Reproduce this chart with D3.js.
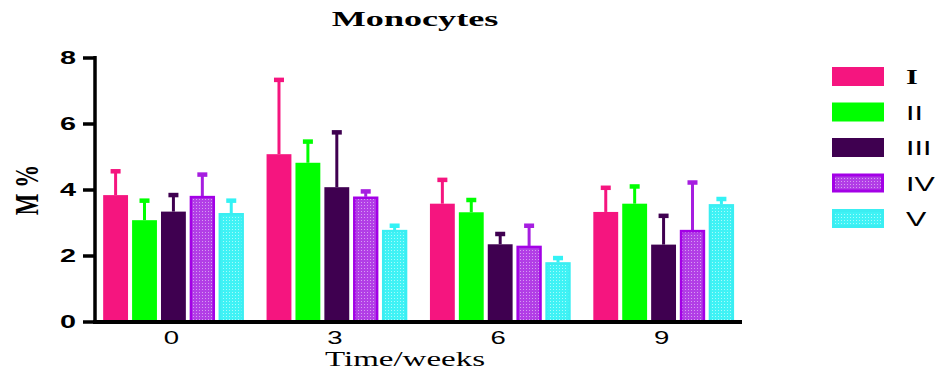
<!DOCTYPE html>
<html>
<head>
<meta charset="utf-8">
<script src="https://cdn.jsdelivr.net/npm/d3@7"></script>
<style>
  html, body { margin: 0; padding: 0; background: #fff; }
  svg { display: block; }
</style>
</head>
<body>
<svg id="chart" width="942" height="381"></svg>
<script>
// Monocyte percentage per group over time (mean with upper SD bar)
const weeks = ["0", "3", "6", "9"];
const groups = ["I", "II", "III", "IV", "V"];
const meanI   = [3.83, 5.07, 3.57, 3.32];
const meanII  = [3.07, 4.81, 3.31, 3.57];
const meanIII = [3.33, 4.07, 2.34, 2.33];
const meanIV  = [3.80, 3.78, 2.29, 2.77];
const meanV   = [3.28, 2.77, 1.79, 3.55];
const sdI   = [0.79, 2.32, 0.79, 0.80];
const sdII  = [0.66, 0.71, 0.44, 0.59];
const sdIII = [0.57, 1.73, 0.38, 0.94];
const sdIV  = [0.72, 0.23, 0.68, 1.51];
const sdV   = [0.45, 0.20, 0.20, 0.23];
const yTicks = [0, 2, 4, 6, 8];

const means = [meanI, meanII, meanIII, meanIV, meanV];
const sds = [sdI, sdII, sdIII, sdIV, sdV];

const colors = ["#f5157f", "#00ff00", "#3f0050", "#a61ee0", "#33f2f5"];
const fills = ["#f5157f", "#00ff00", "#3f0050", "url(#dotsIV)", "url(#dotsV)"];
const borders = [null, null, null, "#a300e6", "#3aeef2"];

const svg = d3.select("#chart");

// dotted fills for groups IV and V
const defs = svg.append("defs");
function dots(id, base, dot) {
  const p = defs.append("pattern").attr("id", id)
    .attr("patternUnits", "userSpaceOnUse").attr("width", 3).attr("height", 3);
  p.append("rect").attr("width", 3).attr("height", 3).attr("fill", base);
  p.append("rect").attr("x", 1).attr("y", 1).attr("width", 1).attr("height", 1).attr("fill", dot);
}
dots("dotsIV", "#b23ee6", "#d69cf2");
dots("dotsV", "#3ff2f5", "#a6fbfb");

const x0 = d3.scaleBand().domain(weeks).range([95, 742]).paddingInner(0.14).paddingOuter(0.05);
const x1 = d3.scaleBand().domain(groups).range([0, x0.bandwidth()]).paddingInner(0.14).paddingOuter(0);
const y = d3.scaleLinear().domain([0, 8]).range([321.5, 57.5]);

// horizontally widened text
function wideText(parent, x, yy, txt, opts) {
  const g = parent.append("g").attr("transform", `translate(${x},${yy}) scale(${opts.sx || 1.5},1)`);
  return g.append("text")
    .attr("text-anchor", opts.anchor || "middle")
    .attr("font-family", opts.family || "Liberation Sans, Arial, sans-serif")
    .attr("font-weight", opts.weight || "normal")
    .attr("font-size", opts.size)
    .attr("fill", "#000")
    .text(txt);
}

// bars
const barsG = svg.append("g");
weeks.forEach((w, wi) => {
  groups.forEach((g, gi) => {
    const bx = x0(w) + x1(g);
    const bw = x1.bandwidth();
    const v = means[gi][wi];
    const top = y(v + sds[gi][wi]);
    const cx = bx + bw / 2;
    // error whisker and cap
    barsG.append("line")
      .attr("x1", cx).attr("x2", cx).attr("y1", y(v)).attr("y2", top + 2)
      .attr("stroke", colors[gi]).attr("stroke-width", 3);
    barsG.append("rect")
      .attr("x", cx - 5).attr("y", top).attr("width", 10).attr("height", 4.5)
      .attr("fill", colors[gi]);
    const r = barsG.append("rect")
      .attr("x", bx).attr("y", y(v)).attr("width", bw).attr("height", y(0) - y(v))
      .attr("fill", fills[gi]);
    if (borders[gi]) {
      r.attr("x", bx + 1).attr("width", bw - 2).attr("y", y(v) + 1).attr("height", y(0) - y(v) - 1)
        .attr("stroke", borders[gi]).attr("stroke-width", 2.5);
    }
  });
});

// y axis
const yAxis = svg.append("g").attr("transform", "translate(95,0)")
  .call(d3.axisLeft(y).tickValues(yTicks).tickSize(12).tickSizeOuter(0).tickFormat(""));
yAxis.select(".domain").attr("stroke", "#000").attr("stroke-width", 3.5)
  .attr("d", `M0,${y(8) - 1.5}V${y(0) + 2}`);
yAxis.selectAll(".tick line").attr("stroke", "#000").attr("stroke-width", 3.5);
yTicks.forEach(t => {
  wideText(svg, 68, y(t) + 6.5, String(t), { size: 18, weight: "bold", anchor: "middle", sx: 1.6 });
});

// x axis
const xAxis = svg.append("g").attr("transform", "translate(0,322)")
  .call(d3.axisBottom(x0).tickSize(0).tickSizeOuter(0).tickFormat(""));
xAxis.select(".domain").attr("stroke", "#000").attr("stroke-width", 4)
  .attr("d", "M93,0H742");
weeks.forEach(w => {
  wideText(svg, x0(w) + x0.bandwidth() / 2 - 2, 344, w, { size: 19, sx: 1.45 });
});

// titles
wideText(svg, 415, 26, "Monocytes", { size: 21, weight: "bold", family: "Liberation Serif, Times New Roman, serif", sx: 1.72 });
wideText(svg, 405, 366, "Time/weeks", { size: 22, family: "Liberation Serif, Times New Roman, serif", sx: 1.5 });

const yl = svg.append("g").attr("transform", "translate(38,190) rotate(-90) scale(1,1.45)");
yl.append("text").attr("text-anchor", "middle")
  .attr("font-family", "Liberation Serif, Times New Roman, serif")
  .attr("font-weight", "bold").attr("font-size", 23).attr("fill", "#000")
  .text("M %");

// legend
const leg = svg.append("g");
groups.forEach((g, gi) => {
  const ly = 67 + gi * 35.5;
  const r = leg.append("rect").attr("x", 832).attr("y", ly).attr("width", 52).attr("height", 19)
    .attr("fill", fills[gi]);
  if (borders[gi]) {
    r.attr("x", 833.5).attr("y", ly + 1.5).attr("width", 49).attr("height", 16)
      .attr("stroke", borders[gi]).attr("stroke-width", 3);
  }
  wideText(leg, 906, ly + 17, g, {
    size: 21, anchor: "start", sx: 1.45,
    family: gi === 0 ? "Liberation Serif, Times New Roman, serif" : "Liberation Sans, Arial, sans-serif",
    weight: gi === 0 ? "bold" : "normal"
  });
});
</script>
</body>
</html>
